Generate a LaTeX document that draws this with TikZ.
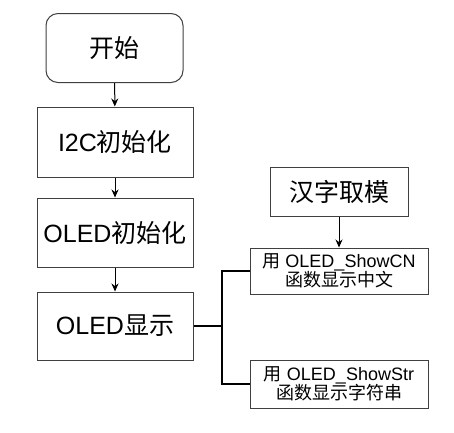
\documentclass[tikz,border=0pt]{standalone}
\usepackage{fontspec}
\setmainfont{Liberation Sans}
\newfontfamily\cjk{Noto Sans CJK SC}
\usetikzlibrary{arrows.meta}
\begin{document}
\begin{tikzpicture}[x=1pt,y=-1pt,
  box/.style={draw=black!75,line width=1pt,inner sep=0pt,fill=white},
  big/.style={font=\fontsize{25}{29}\selectfont},
  small/.style={font=\fontsize{18}{21}\selectfont,align=center},
  arr/.style={-{Stealth[length=8pt,width=7pt]},line width=1pt},
  thick line/.style={line width=2pt}]
\useasboundingbox (0,0) rectangle (454,432);
\node[box,big,rounded corners=12pt,minimum width=137pt,minimum height=69pt] (start) at (114.5,48) {\cjk 开始};
\node[box,big,minimum width=156pt,minimum height=70pt] (i2c) at (115,142) {I2C{\cjk 初始化}};
\node[box,big,minimum width=156pt,minimum height=69pt] (oinit) at (115,232.5) {OLED{\cjk 初始化}};
\node[box,big,minimum width=156pt,minimum height=68pt] (disp) at (115,326) {OLED{\cjk 显示}};
\node[box,big,minimum width=138pt,minimum height=49pt] (mod) at (339,191.5) {\cjk 汉字取模};
\node[box,small,minimum width=178pt,minimum height=46pt] (cn) at (339,271) {{\cjk 用} OLED\_ShowCN\\[-2pt]{\cjk 函数显示中文}};
\node[box,small,minimum width=178pt,minimum height=48pt] (str) at (339,384) {{\cjk 用} OLED\_ShowStr\\[-2pt]{\cjk 函数显示字符串}};
\coordinate (bx) at (222,326);
\draw[arr] (start) -- (i2c);
\draw[arr] (i2c) -- (oinit);
\draw[arr] (oinit) -- (disp);
\draw[arr] (mod) -- (cn);
\draw[thick line] (disp.east) -- (bx);
\draw[thick line] (cn.west) -| (bx) |- (str.west);
\end{tikzpicture}
\end{document}
